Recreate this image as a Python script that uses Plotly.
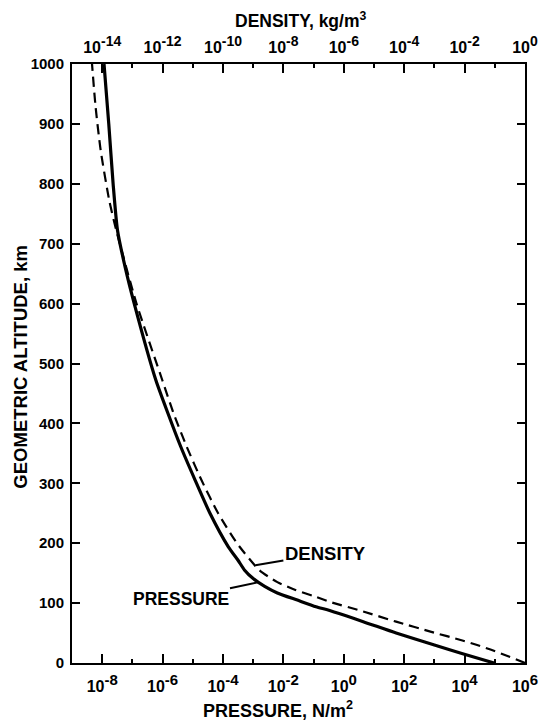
import numpy as np
import plotly.graph_objects as go

# ---- data ----
alt_pressure = [0, 16, 30, 50, 69, 88, 94, 105, 117, 128, 141, 155, 172, 194, 250, 305, 361, 417, 472, 600, 660, 723, 800, 900, 1000]
pressure = [9.5e4, 8.1e3, 1.0e3, 54, 4.4, 0.32, 0.12, 2.9e-2, 6.3e-3, 2.4e-3, 1.0e-3, 5.2e-4, 3.1e-4,
            1.5e-4, 3.7e-5, 1.2e-5, 4.0e-6, 1.5e-6, 6.0e-7, 1.15e-7, 5.8e-8, 3.2e-8, 2.3e-8, 1.65e-8, 1.15e-8]

alt_density = [0, 5, 12, 22, 30, 38, 52, 69, 86, 102, 111, 122, 135, 155, 200, 250, 305, 361, 417, 472, 601, 723, 773, 856, 930, 1000]
density = [1.0, 0.57, 0.25, 7.6e-2, 2.6e-2, 7.9e-3, 7.9e-4, 5.4e-5, 4.4e-6, 3.5e-7, 1.1e-7, 2.5e-8, 6.3e-9, 1.6e-9, 2.9e-10,
           6.9e-11, 1.95e-11, 6.3e-12, 2.3e-12, 9.8e-13, 1.35e-13, 2.9e-14, 1.7e-14, 8.9e-15, 6.0e-15, 4.6e-15]

p_tick_exp = [-8, -6, -4, -2, 0, 2, 4, 6]
p_minor_exp = [-7, -5, -3, -1, 1, 3, 5]
d_tick_exp = [-14, -12, -10, -8, -6, -4, -2, 0]
d_minor_exp = [-13, -11, -9, -7, -5, -3, -1]
alt_ticks = list(range(0, 1001, 100))

label_pressure_alt = 135
label_density_alt = 163

FONT = "Liberation Sans"

fig = go.Figure()
fig.add_trace(go.Scatter(x=pressure, y=alt_pressure, mode="lines",
                         line=dict(color="black", width=3.2, shape="spline", smoothing=0.6),
                         xaxis="x", yaxis="y", showlegend=False))
fig.add_trace(go.Scatter(x=density, y=alt_density, mode="lines",
                         line=dict(color="black", width=2.2, dash="10px,6px", shape="spline", smoothing=0.6),
                         xaxis="x2", yaxis="y", showlegend=False))

xtickfont = dict(family=FONT, size=16, color="black", weight="bold")
ytickfont = dict(family=FONT, size=15, color="black", weight="bold")
titlefont = dict(family=FONT, size=18, color="black", weight="bold")

def sup(e, px=15):
    return "10<sup><span style='font-size:%dpx'>%d</span></sup>" % (px, e)

# page body adds an 8px offset; plot area spans x 72..531, y 64..663 on screen
fig.update_layout(
    width=542, height=719,
    margin=dict(l=64, r=19, t=56, b=64),
    paper_bgcolor="white", plot_bgcolor="white",
    xaxis=dict(type="log", range=[-9, 6], showgrid=False, zeroline=False,
               showline=True, linecolor="black", linewidth=2,
               ticks="inside", ticklen=9, tickwidth=1.6, tickcolor="black",
               tickvals=[10.0 ** e for e in p_tick_exp],
               ticktext=[sup(e) for e in p_tick_exp],
               tickfont=xtickfont, ticklabelstandoff=8,
               minor=dict(tickvals=[10.0 ** e for e in p_minor_exp], ticks="inside",
                          ticklen=4, tickwidth=1.6, tickcolor="black", showgrid=False)),
    xaxis2=dict(type="log", range=[-15, 0], overlaying="x", side="top", anchor="y",
                showgrid=False, zeroline=False,
                showline=True, linecolor="black", linewidth=2,
                ticks="inside", ticklen=9, tickwidth=1.6, tickcolor="black",
                tickvals=[10.0 ** e for e in d_tick_exp],
                ticktext=[sup(e, 14) for e in d_tick_exp],
                tickfont=xtickfont, ticklabelstandoff=3,
                minor=dict(tickvals=[10.0 ** e for e in d_minor_exp], ticks="inside",
                           ticklen=4, tickwidth=1.6, tickcolor="black", showgrid=False)),
    yaxis=dict(range=[0, 1000], showgrid=False, zeroline=False,
               showline=True, mirror="ticks", linecolor="black", linewidth=2,
               ticks="inside", ticklen=8, tickwidth=1.6, tickcolor="black",
               tickvals=alt_ticks, tickfont=ytickfont, ticklabelstandoff=3),
)

# axis titles
fig.add_annotation(text="GEOMETRIC ALTITUDE, km", xref="paper", yref="paper",
                   x=-0.1145, y=0.495, xanchor="center", yanchor="middle", textangle=-90,
                   showarrow=False, font=dict(family=FONT, size=18.5, color="black", weight="bold"))
fig.add_annotation(text="PRESSURE, N/m<sup>2</sup>", xref="paper", yref="paper",
                   x=0.455, y=-0.078, yanchor="middle", xanchor="center", showarrow=False,
                   font=titlefont)
fig.add_annotation(text="DENSITY, kg/m<sup>3</sup>", xref="paper", yref="paper",
                   x=0.505, y=1.073, yanchor="middle", xanchor="center", showarrow=False,
                   font=dict(family=FONT, size=17.5, color="black", weight="bold"))

# curve labels with leader lines
lp = float(np.interp(label_pressure_alt, alt_pressure, np.log10(pressure)))
ld = float(np.interp(label_density_alt, alt_density, np.log10(density)))
fig.add_annotation(text="PRESSURE", x=lp, y=label_pressure_alt, xref="x", yref="y",
                   showarrow=True, arrowhead=0, arrowwidth=2, arrowcolor="black",
                   ax=-78, ay=17, font=dict(family=FONT, size=17.5, color="black", weight="bold"))
fig.add_annotation(text="DENSITY", x=ld, y=label_density_alt, xref="x2", yref="y",
                   showarrow=True, arrowhead=0, arrowwidth=2, arrowcolor="black",
                   ax=70, ay=-12, font=dict(family=FONT, size=18.5, color="black", weight="bold"))

fig.write_html("out.html")
